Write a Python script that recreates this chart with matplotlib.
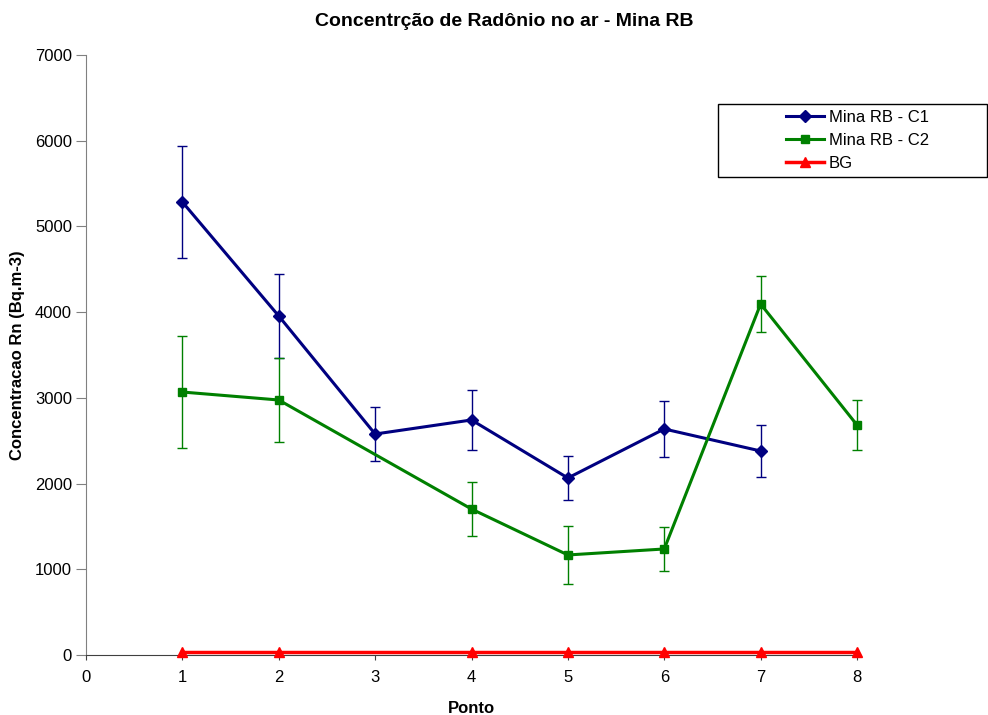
import matplotlib.pyplot as plt
from matplotlib.patches import Rectangle
from matplotlib.lines import Line2D
import numpy as np

plt.rcParams['font.family'] = ['Liberation Sans', 'DejaVu Sans']

# Mina RB - campanha 1 (sem ponto 8)
x_c1 = [1, 2, 3, 4, 5, 6, 7]
rn_c1 = [5285, 3955, 2578, 2742, 2065, 2637, 2380]
err_c1 = [653, 490, 320, 345, 257, 327, 300]

# Mina RB - campanha 2 (sem ponto 3)
x_c2 = [1, 2, 4, 5, 6, 7, 8]
rn_c2 = [3068, 2975, 1703, 1167, 1237, 4095, 2683]
err_c2 = [650, 485, 320, 340, 262, 330, 295]

# background
x_bg = [1, 2, 4, 5, 6, 7, 8]
rn_bg = [40, 40, 40, 40, 40, 40, 40]

navy = '#000080'
green = '#008000'
red = '#ff0000'

fig = plt.figure(figsize=(9.88, 7.15), dpi=100)
ax = fig.add_axes([86 / 988, 60 / 715, 771 / 988, 600 / 715])

ax.errorbar(x_c1, rn_c1, yerr=err_c1, color=navy, lw=2.2, marker='D', ms=6.5,
            ecolor=navy, elinewidth=1, capsize=3.6, capthick=1, zorder=3)
ax.errorbar(x_c2, rn_c2, yerr=err_c2, color=green, lw=2.2, marker='s', ms=6,
            ecolor=green, elinewidth=1, capsize=3.6, capthick=1, zorder=3)
ax.plot(x_bg, rn_bg, color=red, lw=2.5, marker='^', ms=7, zorder=4)
for art in ax.lines + ax.collections:
    art.set_clip_on(False)

ax.set_xlim(0, 8)
ax.set_ylim(0, 7000)
ax.set_xticks(np.arange(0, 9))
ax.set_yticks(np.arange(0, 7001, 1000))
ax.tick_params(labelsize=12, direction='out', colors='black')
ax.tick_params(axis='y', length=7, pad=3, color='#808080')
ax.tick_params(axis='x', length=3.5, pad=7, color='#404040')
ax.spines['top'].set_visible(False)
ax.spines['right'].set_visible(False)
ax.spines['left'].set_color('#808080')
ax.spines['bottom'].set_color('#404040')

ax.set_xlabel('Ponto', fontsize=12, fontweight='bold')
ax.xaxis.set_label_coords(0.5, -0.077)
ax.set_ylabel('Concentracao Rn (Bq.m-3)', fontsize=12, fontweight='bold')
ax.yaxis.set_label_coords(-0.079, 0.5)
fig.text(504 / 988, 1 - 22 / 715, 'Concentrção de Radônio no ar - Mina RB',
         fontsize=14, fontweight='bold', ha='center', va='center')

# legenda: caixa larga encostada na borda direita
handles = [
    Line2D([], [], color=navy, lw=2.2, marker='D', ms=6.5),
    Line2D([], [], color=green, lw=2.2, marker='s', ms=6),
    Line2D([], [], color=red, lw=2.5, marker='^', ms=7),
]
labels = ['Mina RB - C1', 'Mina RB - C2', 'BG']
fig.legend(handles, labels, loc='upper left', bbox_to_anchor=(786 / 988, 1 - 110 / 715),
           fontsize=12, frameon=False, borderpad=0, borderaxespad=0,
           labelspacing=0.48, handlelength=2.3, handletextpad=0.25)
fig.patches.append(Rectangle((718 / 988, 1 - 177 / 715), 269 / 988, 73 / 715,
                             transform=fig.transFigure, fill=False,
                             edgecolor='black', lw=1))

fig.savefig('out.png', dpi=100)
